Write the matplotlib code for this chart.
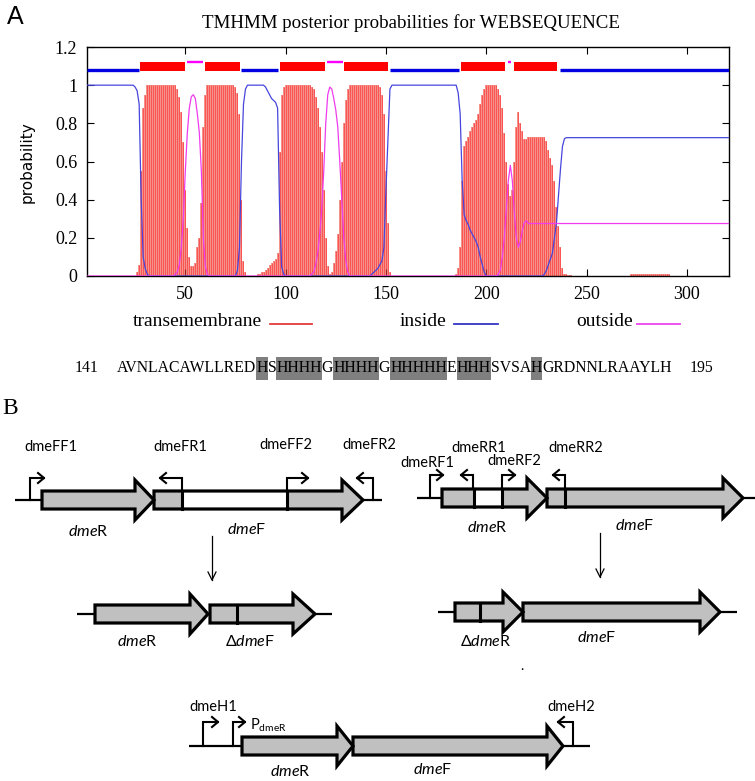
import matplotlib
matplotlib.use('Agg')
import matplotlib.pyplot as plt
from matplotlib.patches import Polygon, Rectangle
import numpy as np

plt.rcParams['mathtext.fontset'] = 'custom'
plt.rcParams['mathtext.it'] = 'Lato:italic'
plt.rcParams['mathtext.rm'] = 'Lato'

# ---------------- Panel A data (TMHMM posterior probabilities) ----------------
residues = list(range(1, 322))
p_transmembrane = (
    [0.0] * 25 +
    [0.02, 0.06, 0.55, 0.88, 0.95] +
    [1.0] * 15 +
    [0.98, 0.94, 0.86, 0.70, 0.45, 0.25, 0.10, 0.05, 0.05, 0.07, 0.15, 0.20, 0.38, 0.78, 0.95] +
    [1.0] * 14 +
    [0.99, 0.96, 0.85, 0.40, 0.08, 0.02] +
    [0.0] * 5 +
    [0.01, 0.01, 0.02, 0.02, 0.03, 0.04, 0.06, 0.07, 0.08, 0.09, 0.12, 0.65, 0.95, 0.99] +
    [1.0] * 13 +
    [0.99, 0.98, 0.94, 0.88, 0.78, 0.65, 0.45, 0.20, 0.05, 0.01, 0.02, 0.07, 0.13, 0.22,
     0.40, 0.60, 0.80, 0.92, 0.98] +
    [1.0] * 15 +
    [0.99, 0.95, 0.85, 0.55, 0.28, 0.02] +
    [0.0] * 32 +
    [0.01, 0.04, 0.15, 0.50, 0.68, 0.71, 0.73, 0.76, 0.78, 0.80, 0.82, 0.85, 0.90, 0.95, 0.98] +
    [1.0] * 6 +
    [0.98, 0.95, 0.88, 0.75, 0.60, 0.48, 0.42, 0.45, 0.60, 0.78, 0.86, 0.80, 0.76, 0.72, 0.72] +
    [0.73] * 9 +
    [0.71, 0.66, 0.62, 0.58, 0.50, 0.36, 0.26, 0.15, 0.04, 0.01, 0.01, 0.005, 0.005] +
    [0.0] * 29 +
    [0.008] * 20 +
    [0.0] * 30
)
p_inside = (
    [1.0] * 24 +
    [0.99, 0.97, 0.90, 0.40, 0.10, 0.04, 0.01] +
    [0.0] * 44 +
    [0.03, 0.15, 0.60, 0.90, 0.98] +
    [1.0] * 9 +
    [0.99, 0.97, 0.95, 0.93, 0.92, 0.91, 0.88, 0.35, 0.05, 0.01] +
    [0.0] * 43 +
    [0.01, 0.02, 0.03, 0.04, 0.06, 0.08, 0.15, 0.45, 0.72, 0.98] +
    [1.0] * 33 +
    [0.96, 0.85, 0.50, 0.32, 0.29, 0.27, 0.24, 0.22, 0.20, 0.18, 0.15, 0.10, 0.06, 0.02] +
    [0.0] * 29 +
    [0.01, 0.03, 0.06, 0.09, 0.12, 0.20, 0.28, 0.42, 0.56, 0.68, 0.72] +
    [0.725] * 82
)
p_outside = (
    [0.0] * 44 +
    [0.01, 0.02, 0.06, 0.15, 0.30, 0.55, 0.75, 0.88, 0.94, 0.95, 0.93, 0.85, 0.75, 0.55,
     0.20, 0.05, 0.01] +
    [0.0] * 51 +
    [0.01, 0.02, 0.06, 0.12, 0.22, 0.35, 0.55, 0.80, 0.95, 0.99, 0.98, 0.93, 0.87, 0.78,
     0.60, 0.40, 0.20, 0.08, 0.02] +
    [0.0] * 74 +
    [0.01, 0.03, 0.10, 0.20, 0.35, 0.50, 0.58, 0.50, 0.33, 0.20, 0.15, 0.18, 0.24, 0.28, 0.29] +
    [0.275] * 101
)
# predicted topology segments drawn above the curves
topo_inside = [(1, 27), (78, 96), (152, 186.5), (237, 321)]
topo_tm = [(27.5, 50), (60, 77.5), (97, 119.5), (129, 151), (187.5, 209.5), (214, 235.5)]
topo_outside = [(51, 59), (120.5, 128.5), (211, 212.5)]

x_ticks = [50, 100, 150, 200, 250, 300]
y_ticks = [0, 0.2, 0.4, 0.6, 0.8, 1.0, 1.2]
y_ticklabels = ['0', '0.2', '0.4', '0.6', '0.8', '1', '1.2']

sequence = "AVNLACAWLLREDHSHHHHGHHHHGHHHHHEHHHSVSAHGRDNNLRAAYLH"
seq_start, seq_end = 141, 195
highlight_spans = [(13, 14), (15, 19), (20, 24), (25, 30), (31, 34), (38, 39)]

# ---------------- Panel B data (gene constructs) ----------------
# gene: (label, x_start, x_body_end, x_tip, y_center, white_box or None, dividers, label_x, label_y)
genes = [
    (r'$\mathit{dme}$R', 42, 135, 154, 500, None, [], 88, 532),
    (r'$\mathit{dme}$F', 154, 342, 363, 500, (182, 287), [], 247, 530),
    (r'$\mathit{dme}$R', 442, 527, 547, 498, (474, 502), [], 487, 528),
    (r'$\mathit{dme}$F', 547, 723, 743, 498, None, [565], 635, 525),
    (r'$\mathit{dme}$R', 95, 190, 208, 614, None, [], 137, 642),
    (r'Δ$\mathit{dme}$F', 210, 293, 315, 614, None, [237], 250, 642),
    (r'Δ$\mathit{dme}$R', 455, 503, 523, 612, None, [480], 486, 642),
    (r'$\mathit{dme}$F', 523, 700, 720, 612, None, [], 597, 638),
    (r'$\mathit{dme}$R', 242, 337, 353, 746, None, [], 290, 771),
    (r'$\mathit{dme}$F', 353, 547, 563, 746, None, [], 433, 770),
]
backbones = [(15, 42, 500), (363, 382, 500), (417, 442, 498), (743, 755, 498),
             (77, 95, 614), (315, 332, 614), (438, 455, 612), (720, 737, 612),
             (189, 242, 746), (563, 590, 746)]
# primer: (label, x, y_base, y_top, direction, length, label_x, label_y)
primers = [
    ('dmeFF1', 30, 500, 478, 1, 14, 51, 447),
    ('dmeFR1', 182, 491, 478, -1, 22, 180, 447),
    ('dmeFF2', 287, 491, 478, 1, 21, 286, 445),
    ('dmeFR2', 373, 500, 478, -1, 16, 369, 445),
    ('dmeRF1', 430, 498, 475, 1, 13, 427, 463),
    ('dmeRR1', 473, 489, 475, -1, 12, 479, 448),
    ('dmeRF2', 502, 489, 475, 1, 13, 514, 461),
    ('dmeRR2', 565, 489, 475, -1, 12, 576, 448),
    ('dmeH1', 203, 746, 722, 1, 15, 213, 707),
    ('', 233, 746, 722, 1, 12, 0, 0),
    ('dmeH2', 573, 746, 722, -1, 15, 571, 707),
]
down_arrows = [(212, 536, 580), (600, 533, 577)]

W, H = 755, 781
fig = plt.figure(figsize=(W / 100, H / 100), dpi=100)

# ---------------- Panel A ----------------
ax = fig.add_axes([87 / W, 1 - 276 / H, (729 - 87) / W, (276 - 47) / H])
ax.bar(residues, p_transmembrane, width=1.0, color='#f4938c', linewidth=0, zorder=1)
ax.vlines(residues, 0, p_transmembrane, color='#ff3030', lw=0.45, zorder=2)
ax.plot(residues, p_inside, color='#4646dc', lw=0.9, zorder=3)
ax.plot(residues, p_outside, color='#ee3cee', lw=0.9, zorder=4)
for a, b in topo_inside:
    ax.plot([a, b], [1.078, 1.078], color='#0000e0', lw=2.4, solid_capstyle='butt', zorder=3)
for a, b in topo_outside:
    ax.plot([a, b], [1.121, 1.121], color='#ff00ff', lw=1.7, solid_capstyle='butt', zorder=3)
for a, b in topo_tm:
    ax.add_patch(Rectangle((a, 1.074), b - a, 0.047, color='#ff0000', lw=0, zorder=3))
ax.set_xlim(1, 321)
ax.set_ylim(0, 1.2)
ax.set_xticks(x_ticks)
ax.set_yticks(y_ticks)
ax.set_yticklabels(y_ticklabels)
ax.tick_params(direction='in', top=True, right=True, length=5, width=0.8,
               labelsize=13, pad=7)
for lab in ax.get_xticklabels() + ax.get_yticklabels():
    lab.set_fontfamily('Liberation Serif')
for s in ax.spines.values():
    s.set_linewidth(1.0)

# overlay in pixel coordinates
ov = fig.add_axes([0, 0, 1, 1], zorder=5)
ov.set_xlim(0, W)
ov.set_ylim(H, 0)
ov.axis('off')
ov.patch.set_alpha(0)
renderer = fig.canvas.get_renderer()

ov.text(15, 17, 'A', fontsize=18, family='Liberation Sans', ha='center', va='center')
ov.text(411, 23, 'TMHMM posterior probabilities for WEBSEQUENCE', fontsize=13.6,
        family='Liberation Serif', ha='center', va='center')
ov.text(27, 162, 'probability', fontsize=11, family='DejaVu Sans', rotation=90,
        ha='center', va='center')

# legend row
leg = [('transemembrane', 133, 270, 312, '#e03c3c'),
       ('inside', 400, 454, 498, '#3434c4'),
       ('outside', 576, 637, 680, '#ee44ee')]
for name, tx, l0, l1, col in leg:
    ov.text(tx, 322, name, fontsize=14, family='Liberation Serif', ha='left', va='center')
    ov.plot([l0, l1], [324, 324], color=col, lw=1.3)

# sequence row with highlighted His residues
seq_fs = 11.5
t = ov.text(0, 0, sequence, fontsize=seq_fs, family='Liberation Serif')
w = t.get_window_extent(renderer).width
t.remove()
seq_fs = seq_fs * 559 / w
ov.text(98, 368, str(seq_start), fontsize=seq_fs, family='Liberation Serif', ha='right', va='center')
ov.text(690, 368, str(seq_end), fontsize=seq_fs, family='Liberation Serif', ha='left', va='center')
bounds = [0]
for a, b in highlight_spans:
    bounds += [a, b]
bounds.append(len(sequence))
hl_set = set(highlight_spans)
xcur = 117
for i in range(len(bounds) - 1):
    a, b = bounds[i], bounds[i + 1]
    if a == b:
        continue
    piece = sequence[a:b]
    tt = ov.text(xcur, 368, piece, fontsize=seq_fs, family='Liberation Serif',
                 ha='left', va='center', zorder=3)
    bb = tt.get_window_extent(renderer)
    if (a, b) in hl_set:
        ov.add_patch(Rectangle((bb.x0, 357), bb.x1 - bb.x0, 23, color='#7f7f7f', lw=0, zorder=1))
    xcur = bb.x1

# ---------------- Panel B ----------------
ov.text(10, 408, 'B', fontsize=17, family='Liberation Serif', ha='center', va='center')

HB, HH = 9, 20
for x0, x1, y in backbones:
    ov.plot([x0, x1], [y, y], color='black', lw=1.6, solid_capstyle='butt', zorder=1)

for label, xs, xb, xt, yc, box, divs, lx, ly in genes:
    pts = [(xs, yc - HB), (xb, yc - HB), (xb, yc - HH), (xt, yc), (xb, yc + HH),
           (xb, yc + HB), (xs, yc + HB)]
    ov.add_patch(Polygon(pts, closed=True, facecolor='#c0c0c0', edgecolor='none', zorder=2))
    if box is not None:
        ov.add_patch(Rectangle((box[0], yc - HB), box[1] - box[0], 2 * HB,
                               facecolor='white', edgecolor='none', zorder=3))
        divs = list(divs) + [box[0], box[1]]
    for d in divs:
        ov.plot([d, d], [yc - HB, yc + HB], color='black', lw=2.2, zorder=4)
    ov.add_patch(Polygon(pts, closed=True, facecolor='none', edgecolor='black',
                         lw=2.3, joinstyle='miter', zorder=5))
    ov.text(lx, ly, label, fontsize=11.5, family=['Lato', 'DejaVu Sans'],
            ha='center', va='center')

for label, x, yb, yt, d, ln, lx, ly in primers:
    ov.plot([x, x, x + d * ln], [yb, yt, yt], color='black', lw=1.5, zorder=6,
            solid_joinstyle='miter')
    xe = x + d * ln
    ov.plot([xe - d * 6, xe, xe - d * 6], [yt - 5, yt, yt + 5], color='black', lw=1.5, zorder=6)
    if label:
        ov.text(lx, ly, label, fontsize=10.5, family='Lato', ha='center', va='center')
ov.text(250, 725, r'P$_{\mathrm{dmeR}}$', fontsize=10.5, family='Lato', ha='left', va='center')

for x, y0, y1 in down_arrows:
    ov.plot([x, x], [y0, y1], color='black', lw=0.9)
    ov.plot([x - 4, x, x + 4], [y1 - 8, y1, y1 - 8], color='black', lw=0.9)
ov.text(522, 666, '.', fontsize=10, family='Lato', ha='center', va='center')

fig.savefig('out.png', dpi=100)
